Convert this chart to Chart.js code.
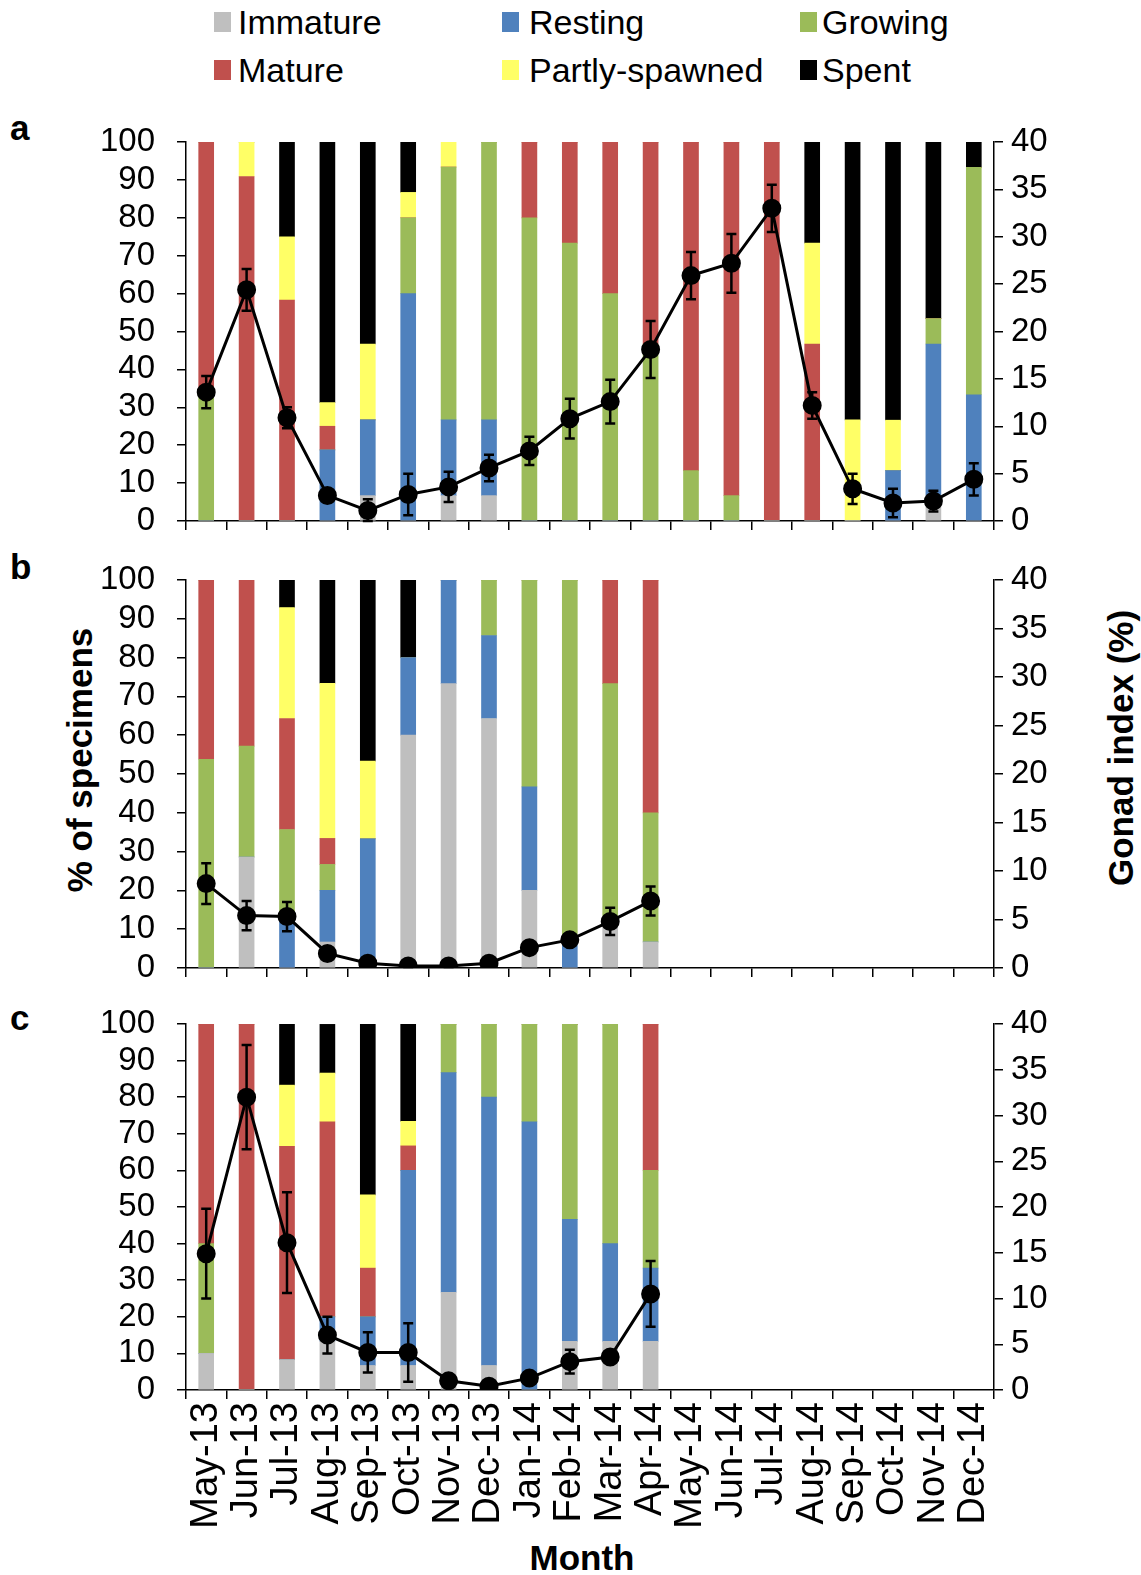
<!DOCTYPE html>
<html>
<head>
<meta charset="utf-8">
<script src="https://cdn.jsdelivr.net/npm/chart.js@4.4.1/dist/chart.umd.min.js"></script>
<style>
  body { margin: 0; background: #fff; font-family: 'Liberation Sans', Arial, sans-serif; }
  #page { position: relative; width: 1141px; height: 1575px; overflow: hidden; }
  canvas { position: absolute; left: 0; }
  .txt { position: absolute; color: #000; white-space: nowrap; }
  .key { font-size: 34px; line-height: 34px; }
  .sq { position: absolute; width: 17px; height: 20px; }
  .bold { font-weight: bold; font-size: 35px; line-height: 35px; }
  .rot { transform: translate(-50%, -50%) rotate(-90deg); }
</style>
</head>
<body>
<div id="page">
  <div class="sq" style="left:214px;top:12px;background:#BFBFBF"></div>
  <div class="txt key" style="left:238px;top:5px">Immature</div>
  <div class="sq" style="left:502px;top:12px;background:#4F81BD"></div>
  <div class="txt key" style="left:529px;top:5px">Resting</div>
  <div class="sq" style="left:800px;top:12px;background:#9BBB59"></div>
  <div class="txt key" style="left:822px;top:5px">Growing</div>
  <div class="sq" style="left:214px;top:60px;background:#C0504D"></div>
  <div class="txt key" style="left:238px;top:53px">Mature</div>
  <div class="sq" style="left:502px;top:60px;background:#FFFF66"></div>
  <div class="txt key" style="left:529px;top:53px">Partly-spawned</div>
  <div class="sq" style="left:800px;top:60px;background:#000000"></div>
  <div class="txt key" style="left:822px;top:53px">Spent</div>

  <div class="txt bold" style="left:10px;top:110px">a</div>
  <div class="txt bold" style="left:10px;top:549px">b</div>
  <div class="txt bold" style="left:10px;top:1000px">c</div>

  <div class="txt bold rot" style="left:79px;top:760px">% of specimens</div>
  <div class="txt bold rot" style="left:1120px;top:748px">Gonad index (%)</div>
  <div class="txt bold" style="left:582px;top:1557px;transform:translate(-50%,-50%)">Month</div>

  <canvas id="chartA" width="1141" height="469" style="top:97px"></canvas>
  <canvas id="chartB" width="1141" height="478" style="top:535px"></canvas>
  <canvas id="chartC" width="1141" height="561" style="top:979px"></canvas>
</div>
<script>
const months = ['May-13', 'Jun-13', 'Jul-13', 'Aug-13', 'Sep-13', 'Oct-13', 'Nov-13', 'Dec-13',
  'Jan-14', 'Feb-14', 'Mar-14', 'Apr-14', 'May-14', 'Jun-14', 'Jul-14', 'Aug-14',
  'Sep-14', 'Oct-14', 'Nov-14', 'Dec-14'];
const stages = ['Immature', 'Resting', 'Growing', 'Mature', 'Partly-spawned', 'Spent'];
const stageColors = ['#BFBFBF', '#4F81BD', '#9BBB59', '#C0504D', '#FFFF66', '#000000'];
const pctTicks = [0, 10, 20, 30, 40, 50, 60, 70, 80, 90, 100];
const giTicks = [0, 5, 10, 15, 20, 25, 30, 35, 40];

// panel a
const immatureA = [0, 0, 0, 0, 6.7, 0, 6.7, 6.7, 0, 0, 0, 0, 0, 0, 0, 0, 0, 0, 6.7, 0];
const restingA = [0, 0, 0, 18.75, 20, 60, 20, 20, 0, 0, 0, 0, 0, 0, 0, 0, 0, 13.3, 40, 33.3];
const growingA = [33.3, 0, 0, 0, 0, 20, 66.7, 73.3, 80, 73.3, 60, 46.7, 13.3, 6.7, 0, 0, 0, 0, 6.7, 60];
const matureA = [66.7, 90.9, 58.3, 6.25, 0, 0, 0, 0, 20, 26.7, 40, 53.3, 86.7, 93.3, 100, 46.7, 0, 0, 0, 0];
const partlyA = [0, 9.1, 16.7, 6.25, 20, 6.7, 6.7, 0, 0, 0, 0, 0, 0, 0, 0, 26.6, 26.7, 13.3, 0, 0];
const spentA = [0, 0, 25, 68.75, 53.3, 13.3, 0, 0, 0, 0, 0, 0, 0, 0, 0, 26.7, 73.3, 73.3, 46.7, 6.7];
const gonadA = [13.6, 24.4, 10.9, 2.7, 1.1, 2.8, 3.6, 5.6, 7.4, 10.8, 12.6, 18.1, 25.9, 27.2, 33.0, 12.2, 3.4, 1.9, 2.1, 4.4];
const errA = [1.7, 2.2, 1.1, 0.5, 1.2, 2.2, 1.6, 1.4, 1.5, 2.1, 2.3, 3.0, 2.5, 3.1, 2.5, 1.4, 1.6, 1.5, 1.1, 1.7];

// panel b
const immatureB = [0, 28.6, 0, 6.7, 0, 60, 73.3, 64.3, 20, 0, 13.3, 6.7];
const restingB = [0, 0, 14.3, 13.3, 33.3, 20, 26.7, 21.4, 26.7, 6.7, 0, 0];
const growingB = [53.8, 28.6, 21.4, 6.7, 0, 0, 0, 14.3, 53.3, 93.3, 60, 33.3];
const matureB = [46.2, 42.9, 28.6, 6.7, 0, 0, 0, 0, 0, 0, 26.7, 60];
const partlyB = [0, 0, 28.6, 40, 20, 0, 0, 0, 0, 0, 0, 0];
const spentB = [0, 0, 7.1, 26.7, 46.7, 20, 0, 0, 0, 0, 0, 0];
const gonadB = [8.7, 5.4, 5.3, 1.5, 0.5, 0.2, 0.2, 0.5, 2.1, 2.9, 4.8, 6.9];
const errB = [2.1, 1.5, 1.5, 0.3, 0.2, 0.1, 0.1, 0.2, 0.3, 0.3, 1.4, 1.5];

// panel c
const immatureC = [10, 0, 8.3, 13.3, 6.7, 6.7, 26.7, 6.7, 0, 13.3, 13.3, 13.3];
const restingC = [0, 0, 0, 6.7, 13.3, 53.3, 60, 73.3, 73.3, 33.3, 26.7, 20];
const growingC = [30, 0, 0, 0, 0, 0, 13.3, 20, 26.7, 53.3, 60, 26.7];
const matureC = [60, 100, 58.3, 53.3, 13.3, 6.7, 0, 0, 0, 0, 0, 40];
const partlyC = [0, 0, 16.7, 13.3, 20, 6.7, 0, 0, 0, 0, 0, 0];
const spentC = [0, 0, 16.7, 13.3, 46.7, 26.7, 0, 0, 0, 0, 0, 0];
const gonadC = [14.9, 32.0, 16.1, 6.0, 4.1, 4.1, 1.0, 0.4, 1.3, 3.1, 3.6, 10.5];
const errC = [4.9, 5.7, 5.5, 2.0, 2.2, 3.2, 0.3, 0.2, 0.3, 1.3, 0.5, 3.6];

Chart.defaults.font.family = "'Liberation Sans', Arial, sans-serif";
Chart.defaults.color = '#000';

const errorBars = {
  id: 'errorBars',
  afterDatasetsDraw(chart) {
    const idx = chart.data.datasets.findIndex(d => d.errors);
    const ds = chart.data.datasets[idx];
    const meta = chart.getDatasetMeta(idx);
    const y1 = chart.scales.y1;
    const ctx = chart.ctx;
    ctx.save();
    ctx.strokeStyle = '#000';
    ctx.lineWidth = 2.5;
    meta.data.forEach((pt, i) => {
      const v = ds.data[i];
      const e = ds.errors[i];
      if (v == null || !e) return;
      const top = y1.getPixelForValue(v + e);
      const bot = y1.getPixelForValue(Math.max(v - e, 0));
      ctx.beginPath();
      ctx.moveTo(pt.x, top); ctx.lineTo(pt.x, bot);
      ctx.moveTo(pt.x - 5, top); ctx.lineTo(pt.x + 5, top);
      ctx.moveTo(pt.x - 5, bot); ctx.lineTo(pt.x + 5, bot);
      ctx.stroke();
    });
    ctx.restore();
  }
};

// padTop must beat the y axis label overhang (~42px) so the plot top lands where we want
function makePanel(id, padTop, axisH, series, gonad, errs, showLabels) {
  const datasets = series.map((vals, i) => ({
    type: 'bar',
    label: stages[i],
    data: vals,
    backgroundColor: stageColors[i],
    borderWidth: 0,
    barThickness: 15,
    yAxisID: 'y',
    order: 1
  }));
  datasets.push({
    type: 'line',
    label: 'Gonad index',
    data: gonad,
    errors: errs,
    yAxisID: 'y1',
    borderColor: '#000',
    borderWidth: 3,
    pointRadius: 8,
    pointBackgroundColor: '#000',
    pointBorderColor: '#000',
    tension: 0,
    order: 0
  });
  const axisLine = { color: '#000', width: 1.5 };
  const tickGrid = { drawOnChartArea: false, drawTicks: true, tickLength: 9, color: '#000', lineWidth: 1.5 };
  new Chart(document.getElementById(id), {
    data: { labels: months, datasets: datasets },
    options: {
      responsive: false,
      animation: false,
      layout: { padding: { top: padTop, left: 0, right: 0, bottom: 0 } },
      plugins: { legend: { display: false }, tooltip: { enabled: false } },
      scales: {
        x: {
          stacked: true,
          grid: Object.assign({ offset: true }, tickGrid),
          border: axisLine,
          ticks: { display: showLabels, autoSkip: false, minRotation: 90, maxRotation: 90, padding: 3, font: { size: 38 } },
          afterFit: s => { s.height = axisH; }
        },
        y: {
          stacked: true,
          position: 'left',
          min: pctTicks[0],
          max: pctTicks[pctTicks.length - 1],
          afterBuildTicks: s => { s.ticks = pctTicks.map(v => ({ value: v })); },
          ticks: { autoSkip: false, padding: 22, font: { size: 33 } },
          grid: tickGrid,
          border: axisLine,
          afterFit: s => { s.width = 186; }
        },
        y1: {
          position: 'right',
          min: giTicks[0],
          max: giTicks[giTicks.length - 1],
          afterBuildTicks: s => { s.ticks = giTicks.map(v => ({ value: v })); },
          ticks: { autoSkip: false, padding: 8, font: { size: 33 } },
          grid: tickGrid,
          border: axisLine,
          afterFit: s => { s.width = 147; }
        }
      }
    },
    plugins: [errorBars]
  });
}

makePanel('chartA', 45, 45, [immatureA, restingA, growingA, matureA, partlyA, spentA], gonadA, errA, false);
makePanel('chartB', 45, 45, [immatureB, restingB, growingB, matureB, partlyB, spentB], gonadB, errB, false);
makePanel('chartC', 45, 150, [immatureC, restingC, growingC, matureC, partlyC, spentC], gonadC, errC, true);
</script>
</body>
</html>
